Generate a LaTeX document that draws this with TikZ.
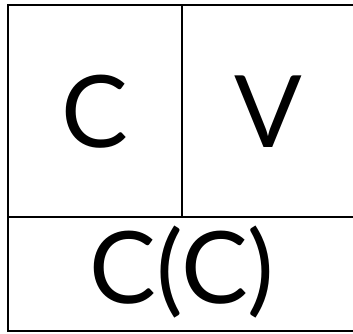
\documentclass[tikz,border=0pt]{standalone}
\usepackage{fontspec}
\setmainfont{Lato}
\usepackage{tikz}

\tikzset{
  celltext/.style={font=\fontsize{100}{100}\selectfont, inner sep=0pt},
  rule/.style={line width=2.2pt, black}
}

\begin{document}
\begin{tikzpicture}[x=1pt, y=-1pt]
        % Rahmen
        \useasboundingbox (0,0) rectangle (353,334);
        \coordinate (TL) at (8,5);
        \coordinate (TR) at (353,5);
        \coordinate (BL) at (8,331);
        \coordinate (BR) at (353,331);
        \coordinate (ML) at (8,217);
        \coordinate (MR) at (353,217);
        \coordinate (Top) at (182,5);
        \coordinate (Mid) at (182,217);

        \draw[rule] (TR) -- (TL) -- (BL) -- (BR); % aussen
        \draw[rule] (ML) -- (MR); % waagerecht
        \draw[rule] (Top) -- (Mid); % senkrecht

        % Beschriftungen
        \node[celltext] (c) at (95,112) {C};
        \node[celltext] (v) at (268,112) {V};
        \node[celltext] (cc) at (182,272) {C(C)};
\end{tikzpicture}
\end{document}
